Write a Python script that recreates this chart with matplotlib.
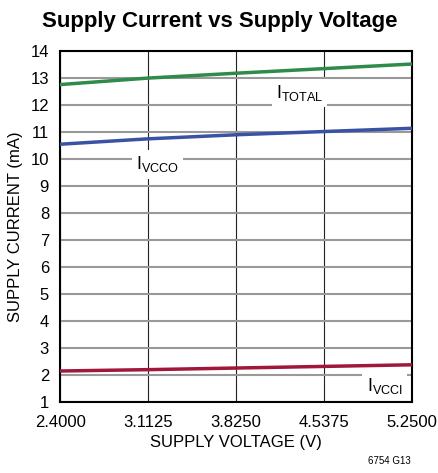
import numpy as np
import matplotlib.pyplot as plt

plt.rcParams['font.family'] = ['Liberation Sans', 'DejaVu Sans']

voltage = [2.4, 3.1125, 3.825, 4.5375, 5.25]
i_total = [12.76, 13.0, 13.18, 13.35, 13.52]
i_vcco = [10.55, 10.75, 10.9, 11.02, 11.14]
i_vcci = [2.15, 2.2, 2.26, 2.32, 2.38]
xticks = [2.4, 3.1125, 3.825, 4.5375, 5.25]
xlabels = ['2.4000', '3.1125', '3.8250', '4.5375', '5.2500']

fig = plt.figure(figsize=(4.39, 4.73), dpi=100, facecolor='white')
ax = fig.add_axes([0.137, 0.150, 0.801, 0.742])

ax.plot(voltage, i_total, color='#2e8b4a', linewidth=2.5, zorder=3)
ax.plot(voltage, i_vcco, color='#3a52a4', linewidth=2.5, zorder=3)
ax.plot(voltage, i_vcci, color='#a0173a', linewidth=2.5, zorder=3)

ax.set_xlim(2.4, 5.25)
ax.set_ylim(1, 14)
ax.set_xticks(xticks)
ax.set_xticklabels(xlabels)
ax.set_yticks(np.arange(1, 15))
ax.tick_params(length=0, labelsize=12)
ax.tick_params(axis='x', pad=9)
ax.tick_params(axis='y', pad=8)
ax.yaxis.grid(True, color='#999999', linewidth=1.5)
ax.xaxis.grid(True, color='#222222', linewidth=0.8)
ax.set_axisbelow(True)
for s in ax.spines.values():
    s.set_linewidth(1.5)

ax.set_xlabel('SUPPLY VOLTAGE (V)', fontsize=12, labelpad=4)
ax.set_ylabel('SUPPLY CURRENT (mA)', fontsize=12, labelpad=5)

box = dict(facecolor='white', edgecolor='none', pad=3)
ax.text(4.34, 12.44, r'I$_{\mathregular{TOTAL}}$', fontsize=13, ha='center', va='center', bbox=box, zorder=2)
ax.text(3.19, 9.8, r'I$_{\mathregular{VCCO}}$', fontsize=13, ha='center', va='center', bbox=box, zorder=2)
ax.text(5.03, 1.6, r'I$_{\mathregular{VCCI}}$', fontsize=13, ha='center', va='center', bbox=box, zorder=2)

fig.text(0.50, 0.955, 'Supply Current vs Supply Voltage', ha='center', va='center',
         fontsize=16, fontweight='bold')
fig.text(0.935, 0.025, '6754 G13', ha='right', va='center', fontsize=7)

fig.savefig('out.png', dpi=100)
